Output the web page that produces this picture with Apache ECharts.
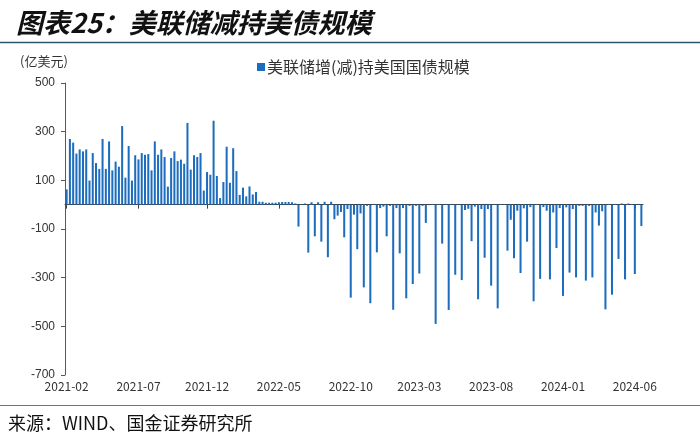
<!DOCTYPE html>
<html>
<head>
<meta charset="utf-8">
<script src="https://cdn.jsdelivr.net/npm/echarts@6/dist/echarts.min.js"></script>
<style>
  html, body { margin: 0; padding: 0; background: #ffffff; }
  #chart { width: 700px; height: 443px; }
</style>
</head>
<body>
<div id="chart"></div>
<script>
// Weekly (Wednesday) observation dates, 2021-02-03 .. 2024-06-26
const startDate = '2021-02-03';
const weekCount = 177;
const categories = [];
(function () {
  const d0 = new Date(startDate + 'T00:00:00Z');
  for (let i = 0; i < weekCount; i++) {
    const d = new Date(d0.getTime() + i * 7 * 86400000);
    categories.push(d.toISOString().slice(0, 10));
  }
})();

const seriesName = '美联储增(减)持美国国债规模';
// 亿美元, weekly change
const fedTreasuryChange = [
  63, 270, 255, 210, 227, 219, 227, 99, 212, 171,
  147, 270, 147, 260, 141, 177, 156, 323, 111, 241,
  99, 203, 186, 212, 205, 208, 141, 260, 205, 227,
  196, 74, 192, 219, 179, 185, 168, 336, 144, 203,
  196, 212, 58, 134, 123, 345, 118, 27, 93, 238,
  90, 232, 138, 40, 70, 34, 75, 42, 52, 12,
  12, 8, 8, 8, 8, 10, 11, 11, 11, 10,
  5, -90, 3, 5, -197, 10, -130, 10, -152, 12,
  -216, 12, -60, -45, -30, -134, -18, -382, -41, -183,
  -36, -340, -5, -405, 3, -196, -14, -8, -130, -5,
  -432, -14, -200, -14, -385, -5, -326, -5, -283, -5,
  -75, -2, 3, -490, 3, -160, 3, -433, 3, -288,
  2, -310, -22, -17, -150, -8, -389, -18, -218, -18,
  -333, 2, -426, 2, 2, -189, -62, -220, -25, -281,
  -15, -152, -10, -397, 2, -305, -10, -25, -307, -32,
  -178, -14, -375, -11, -279, -18, -299, -5, -5, -312,
  -5, -299, -32, -86, -27, -430, 3, -370, 3, -223,
  5, -307, 5, 3, -285, 3, -88
];
const yTicks = [-700, -500, -300, -100, 100, 300, 500];

function isLabelWeek(idx) {
  const s = categories[idx];
  const y = +s.slice(0, 4), m = +s.slice(5, 7), d = +s.slice(8, 10);
  const monthsSince = (y - 2021) * 12 + (m - 2);
  return d <= 7 && monthsSince % 5 === 0;
}

const chart = echarts.init(document.getElementById('chart'), null, { renderer: 'canvas' });
const cjk = '"Noto Sans CJK SC", "Noto Sans", sans-serif';

chart.setOption({
  animation: false,
  backgroundColor: '#ffffff',
  title: {
    text: '图表25：美联储减持美债规模',
    left: 11,
    top: 4,
    textStyle: { fontFamily: cjk, fontSize: 27, fontWeight: 'bold', fontStyle: 'italic', color: '#111111' }
  },
  legend: {
    data: [seriesName],
    left: 252,
    top: 54,
    icon: 'rect',
    itemWidth: 8,
    itemHeight: 8,
    itemGap: 4,
    textStyle: { fontFamily: cjk, fontSize: 16, color: '#333333', padding: [0, 0, 0, -3] }
  },
  grid: { left: 65, right: 57, top: 83, bottom: 68, containLabel: false },
  xAxis: [
    {
      type: 'category',
      data: categories,
      axisLine: { onZero: true, lineStyle: { color: '#404040', width: 1 } },
      axisTick: { show: true, alignWithLabel: true, interval: (i) => isLabelWeek(i), inside: false, length: 4, lineStyle: { color: '#404040' } },
      axisLabel: { show: false },
      splitLine: { show: false }
    },
    {
      type: 'category',
      data: categories,
      position: 'bottom',
      axisLine: { show: false, onZero: false },
      axisTick: { show: false },
      axisLabel: {
        show: true,
        interval: (i) => isLabelWeek(i),
        formatter: (v) => v.slice(0, 7),
        fontFamily: cjk,
        fontSize: 12,
        color: '#333333',
        margin: 5,
        hideOverlap: false
      },
      splitLine: { show: false }
    }
  ],
  yAxis: {
    type: 'value',
    min: yTicks[0],
    max: yTicks[yTicks.length - 1],
    interval: 200,
    axisLine: { show: true, lineStyle: { color: '#595959', width: 1 } },
    axisTick: { show: true, inside: false, length: 4, lineStyle: { color: '#595959' } },
    axisLabel: { fontFamily: '"Liberation Sans", Arial, sans-serif', fontSize: 12, color: '#333333', margin: 10 },
    splitLine: { show: false }
  },
  series: [
    {
      name: seriesName,
      type: 'bar',
      xAxisIndex: 0,
      data: fedTreasuryChange,
      barWidth: '62%',
      itemStyle: { color: '#1C6DBD' }
    }
  ],
  graphic: [
    { type: 'line', shape: { x1: 0, y1: 42.5, x2: 700, y2: 42.5 }, style: { stroke: '#2F5470', lineWidth: 1.5 } },
    { type: 'text', left: 20, top: 55, style: { text: '(亿美元)', fontFamily: cjk, fontSize: 13, fill: '#333333' } },
    { type: 'line', shape: { x1: 0, y1: 405.5, x2: 700, y2: 405.5 }, style: { stroke: '#4F7F98', lineWidth: 1 } },
    { type: 'text', left: 8, top: 414, style: { text: '来源：WIND、国金证券研究所', fontFamily: cjk, fontSize: 18, fill: '#111111' } }
  ]
});
</script>
</body>
</html>
